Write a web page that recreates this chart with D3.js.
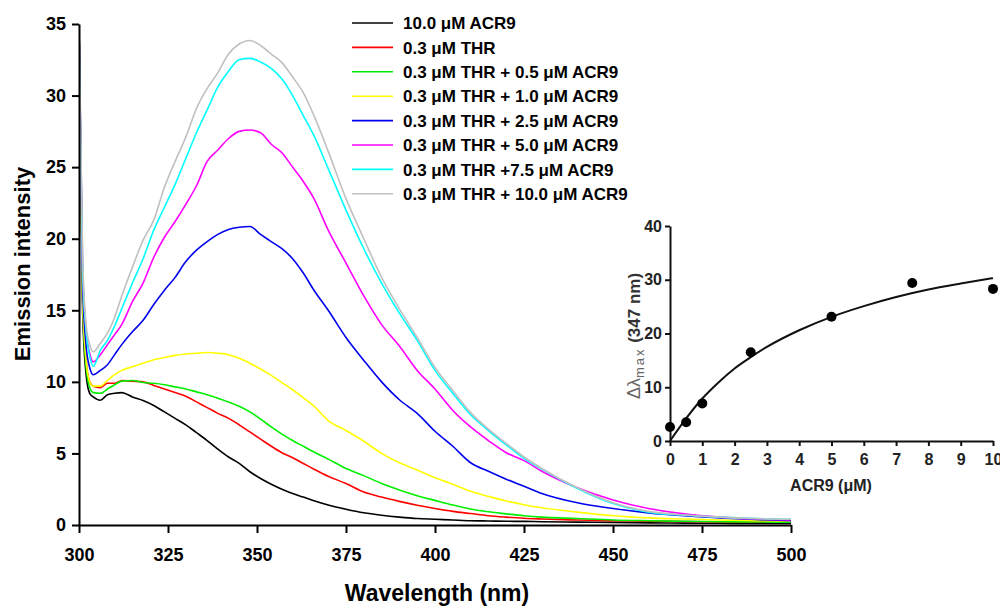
<!DOCTYPE html>
<html>
<head>
<meta charset="utf-8">
<script src="https://cdn.jsdelivr.net/npm/d3@7"></script>
<style>
  body { margin: 0; background: #fff; }
  svg { display: block; font-family: "Liberation Sans", Arial, sans-serif; font-weight: bold; }
</style>
</head>
<body>
<svg id="chart" width="1000" height="609"></svg>
<script>
// wavelength grid (nm) shared by all spectra
const wavelengths = [300, 301, 302, 303, 304, 306, 308, 310, 312, 315, 318, 321, 324, 327, 330, 333, 336, 339, 342, 345,
  348, 351, 354, 357, 360, 363, 366, 370, 375, 380, 385, 390, 395, 400, 405, 410, 415, 420, 425, 430,
  440, 450, 460, 470, 480, 490, 500];

const acr9Only = [35, 15, 10.5, 9.2, 8.95, 8.72, 9.1, 9.2, 9.25, 8.95, 8.7, 8.35, 7.9, 7.45, 7.0, 6.45, 5.9, 5.3, 4.75, 4.3,
  3.72, 3.25, 2.85, 2.5, 2.2, 1.95, 1.7, 1.4, 1.1, 0.85, 0.68, 0.55, 0.45, 0.4, 0.35, 0.3, 0.28, 0.26, 0.25, 0.23,
  0.2, 0.18, 0.15, 0.13, 0.12, 0.1, 0.1];
const thrOnly = [35, 16, 11.5, 10.0, 9.7, 9.6, 9.9, 9.9, 10.1, 10.05, 10.0, 9.75, 9.5, 9.25, 9.0, 8.6, 8.2, 7.8, 7.45, 7.0,
  6.5, 6.0, 5.5, 5.05, 4.7, 4.3, 3.9, 3.4, 2.9, 2.3, 1.95, 1.65, 1.38, 1.15, 0.95, 0.8, 0.65, 0.55, 0.47, 0.42,
  0.35, 0.3, 0.27, 0.24, 0.22, 0.2, 0.2];
const thrAcr05 = [35, 16, 11, 9.6, 9.25, 9.2, 9.5, 9.8, 10.05, 10.1, 9.95, 9.9, 9.8, 9.65, 9.5, 9.3, 9.1, 8.85, 8.6, 8.3,
  7.9, 7.4, 6.85, 6.35, 5.9, 5.5, 5.1, 4.6, 3.95, 3.45, 2.9, 2.45, 2.05, 1.72, 1.4, 1.12, 0.92, 0.78, 0.65, 0.55,
  0.45, 0.35, 0.3, 0.26, 0.23, 0.21, 0.2];
const thrAcr10 = [35, 16, 11.5, 10.0, 9.7, 9.7, 10.1, 10.5, 10.8, 11.05, 11.3, 11.55, 11.7, 11.85, 11.95, 12.0, 12.05, 12.0, 11.9, 11.65,
  11.3, 10.9, 10.45, 9.95, 9.45, 8.9, 8.3, 7.3, 6.6, 5.85, 5.0, 4.35, 3.85, 3.3, 2.85, 2.35, 2.0, 1.68, 1.42, 1.2,
  0.9, 0.65, 0.5, 0.42, 0.35, 0.3, 0.28];
const thrAcr25 = [35, 17, 12.5, 11.0, 10.5, 10.8, 11.2, 11.9, 12.6, 13.5, 14.3, 15.4, 16.4, 17.3, 18.4, 19.2, 19.8, 20.3, 20.65, 20.8,
  20.85, 20.3, 19.8, 19.3, 18.6, 17.6, 16.4, 15.0, 13.1, 11.5, 10.0, 8.75, 7.8, 6.55, 5.5, 4.35, 3.75, 3.2, 2.7, 2.2,
  1.55, 1.15, 0.85, 0.65, 0.5, 0.38, 0.3];
const thrAcr50 = [35, 18, 13.5, 12.0, 11.4, 11.9, 12.6, 13.3, 14.0, 15.6, 16.9, 18.7, 20.1, 21.2, 22.4, 23.7, 25.4, 26.2, 27.0, 27.5,
  27.6, 27.4, 26.6, 26.0, 25.0, 24.0, 22.8, 20.6, 18.3, 16.0, 14.0, 12.5, 10.8, 9.5, 8.0, 6.85, 5.9, 5.05, 4.5, 3.75,
  2.6, 1.75, 1.15, 0.78, 0.55, 0.42, 0.35];
const thrAcr75 = [35, 18, 13.5, 11.8, 11.1, 12.2, 12.9, 13.9, 15.1, 16.9, 18.6, 20.6, 22.2, 23.8, 25.6, 27.4, 29.0, 30.6, 31.7, 32.5,
  32.6, 32.35, 31.9, 31.15, 30.0, 28.6, 27.2, 24.9, 22.0, 19.3, 16.9, 14.8, 12.9, 10.8, 9.2, 7.7, 6.6, 5.6, 4.65, 3.9,
  2.55, 1.5, 0.9, 0.68, 0.55, 0.45, 0.4];
const thrAcr100 = [35, 19, 14, 12.6, 12.1, 12.7, 13.4, 14.5, 16.0, 18.0, 19.9, 21.3, 23.6, 25.4, 27.1, 29.1, 30.5, 31.6, 32.9, 33.6,
  33.85, 33.5, 32.9, 32.3, 31.3, 30.2, 28.6, 26.1, 22.8, 20.0, 17.3, 15.1, 13.1, 11.0, 9.4, 7.85, 6.7, 5.7, 4.75, 3.95,
  2.6, 1.55, 0.95, 0.7, 0.55, 0.45, 0.4];

const seriesNames = ['10.0 \u03bcM ACR9', '0.3 \u03bcM THR', '0.3 \u03bcM THR + 0.5 \u03bcM ACR9', '0.3 \u03bcM THR + 1.0 \u03bcM ACR9',
  '0.3 \u03bcM THR + 2.5 \u03bcM ACR9', '0.3 \u03bcM THR + 5.0 \u03bcM ACR9', '0.3 \u03bcM THR +7.5 \u03bcM ACR9', '0.3 \u03bcM THR + 10.0 \u03bcM ACR9'];
const seriesValues = [acr9Only, thrOnly, thrAcr05, thrAcr10, thrAcr25, thrAcr50, thrAcr75, thrAcr100];
const seriesColors = ['#000000', '#ff0000', '#00ee00', '#ffff00', '#0000ee', '#ff00ff', '#00ffff', '#c0c0c0'];

const xTicks = [300, 325, 350, 375, 400, 425, 450, 475, 500];
const yTicks = [0, 5, 10, 15, 20, 25, 30, 35];

// inset: wavelength shift vs ACR9 concentration
const insetConc = [0, 0.5, 1, 2.5, 5, 7.5, 10];
const insetShift = [2.6, 3.5, 7.0, 16.5, 23.1, 29.4, 28.3];
const fitConc = [0, 0.5, 1, 1.5, 2, 2.5, 3, 4, 5, 6, 7, 8, 9, 10];
const fitShift = [0, 4.2, 7.9, 10.9, 13.5, 15.6, 17.5, 20.6, 23.1, 25.1, 26.8, 28.2, 29.3, 30.3];
const insetXTicks = [0, 1, 2, 3, 4, 5, 6, 7, 8, 9, 10];
const insetYTicks = [0, 10, 20, 30, 40];

const svg = d3.select('#chart');

const x = d3.scaleLinear().domain([300, 500]).range([79, 791]);
const y = d3.scaleLinear().domain([0, 35]).range([525, 24]);

svg.append('clipPath').attr('id', 'plotclip')
  .append('rect').attr('x', 79).attr('y', 24).attr('width', 712).attr('height', 501);

const line = d3.line()
  .x((d, i) => x(wavelengths[i]))
  .y(d => y(d))
  .curve(d3.curveMonotoneX);

svg.append('g')
  .attr('class', 'spectra')
  .attr('clip-path', 'url(#plotclip)')
  .selectAll('path')
  .data(seriesValues)
  .enter().append('path')
  .attr('d', d => line(d))
  .attr('fill', 'none')
  .attr('stroke', (d, i) => seriesColors[i])
  .attr('stroke-width', 1.6);

// main axes
const xAxis = svg.append('g')
  .attr('transform', 'translate(0,525)')
  .call(d3.axisBottom(x).tickValues(xTicks).tickSize(8).tickSizeOuter(0).tickPadding(15));
const yAxis = svg.append('g')
  .attr('transform', 'translate(79,0)')
  .call(d3.axisLeft(y).tickValues(yTicks).tickSize(7).tickSizeOuter(0).tickPadding(6));

[xAxis, yAxis].forEach(a => {
  a.select('.domain').attr('stroke', '#000').attr('stroke-width', 2);
  a.selectAll('.tick line').attr('stroke', '#000').attr('stroke-width', 2);
  a.selectAll('.tick text')
    .attr('fill', '#000')
    .style('font-size', '18px')
    .style('font-weight', 'bold')
    .style('font-family', '"Liberation Sans", Arial, sans-serif');
});

svg.append('text')
  .attr('transform', 'translate(30,264) rotate(-90)')
  .attr('text-anchor', 'middle')
  .style('font-size', '22px')
  .text('Emission intensity');

svg.append('text')
  .attr('x', 437)
  .attr('y', 601)
  .attr('text-anchor', 'middle')
  .style('font-size', '23px')
  .text('Wavelength (nm)');

// legend
const legend = svg.append('g').attr('class', 'legend');
const rows = legend.selectAll('g')
  .data(seriesNames)
  .enter().append('g')
  .attr('transform', (d, i) => `translate(0,${23 + i * 24.4})`);
rows.append('line')
  .attr('x1', 352).attr('x2', 393)
  .attr('stroke', (d, i) => seriesColors[i])
  .attr('stroke-width', 1.6);
rows.append('text')
  .attr('x', 403)
  .attr('dy', '0.36em')
  .style('font-size', '17px')
  .text(d => d);

// inset
const ix = d3.scaleLinear().domain([0, 10]).range([670, 993]);
const iy = d3.scaleLinear().domain([0, 40]).range([441, 226]);
const inset = svg.append('g').attr('class', 'inset');

const ixAxis = inset.append('g')
  .attr('transform', 'translate(0,441)')
  .call(d3.axisBottom(ix).tickValues(insetXTicks).tickSize(5).tickSizeOuter(0).tickPadding(8));
const iyAxis = inset.append('g')
  .attr('transform', 'translate(670,0)')
  .call(d3.axisLeft(iy).tickValues(insetYTicks).tickSize(5).tickSizeOuter(0).tickPadding(3));

[ixAxis, iyAxis].forEach(a => {
  a.select('.domain').attr('stroke', '#111').attr('stroke-width', 2);
  a.selectAll('.tick line').attr('stroke', '#111').attr('stroke-width', 2);
  a.selectAll('.tick text')
    .attr('fill', '#222')
    .style('font-size', '16px')
    .style('font-weight', 'bold')
    .style('font-family', '"Liberation Sans", Arial, sans-serif');
});

const fitLine = d3.line()
  .x((d, i) => ix(fitConc[i]))
  .y(d => iy(d))
  .curve(d3.curveMonotoneX);
inset.append('path')
  .attr('d', fitLine(fitShift))
  .attr('fill', 'none')
  .attr('stroke', '#111')
  .attr('stroke-width', 2);

inset.selectAll('circle')
  .data(insetShift)
  .enter().append('circle')
  .attr('cx', (d, i) => ix(insetConc[i]))
  .attr('cy', d => iy(d))
  .attr('r', 5)
  .attr('fill', '#000');

inset.append('text')
  .attr('x', 831)
  .attr('y', 491)
  .attr('text-anchor', 'middle')
  .attr('fill', '#222')
  .style('font-size', '16px')
  .text('ACR9 (\u03bcM)');

const iyLabel = inset.append('text')
  .attr('transform', 'translate(640,336) rotate(-90)')
  .attr('text-anchor', 'middle');
iyLabel.append('tspan').attr('fill', '#666').style('font-weight', 'normal').style('font-size', '18px').text('\u0394\u03bb');
iyLabel.append('tspan').attr('fill', '#666').attr('dy', 4).style('font-size', '13px')
  .style('font-weight', 'normal').style('letter-spacing', '2px').text('max');
iyLabel.append('tspan').attr('fill', '#333').attr('dy', -4).style('font-size', '17px').text(' (347 nm)');
</script>
</body>
</html>
